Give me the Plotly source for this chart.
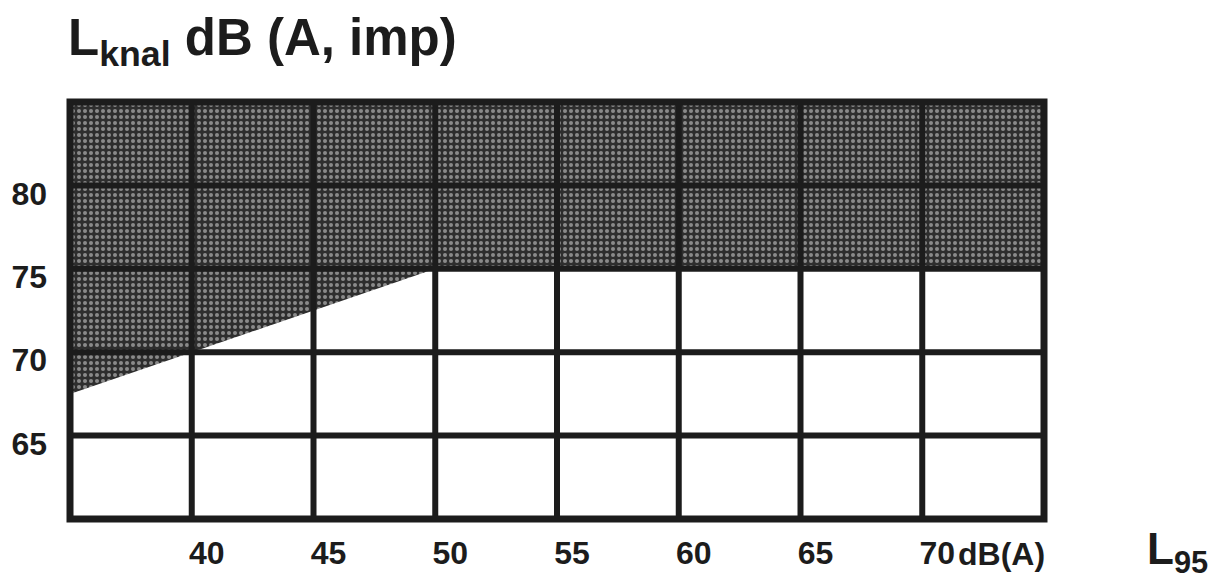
import plotly.graph_objects as go

# ---- data ----
x_ticks = [40, 45, 50, 55, 60, 65, 70]
x_tick_text = ["40", "45", "50", "55", "60", "65", "70"]
y_ticks = [65, 70, 75, 80]
y_tick_text = ["65", "70", "75", "80"]
x_range = [35, 75]
y_range = [60, 85]
# lower boundary of the shaded (impulse-noise) zone
boundary_x = [35, 50, 75]
boundary_y = [67.5, 75, 75]
top_level = 85

FONT = "Liberation Sans, Arial, sans-serif"
INK = "#1c1c1c"

fig = go.Figure()

poly_x = boundary_x + [boundary_x[-1], boundary_x[0]]
poly_y = boundary_y + [top_level, top_level]
fig.add_trace(go.Scatter(
    x=poly_x, y=poly_y, mode="lines", fill="toself",
    line=dict(width=0, color="#333333"),
    fillcolor="#333333",
    fillpattern=dict(shape=".", bgcolor="#2e2e2e", fgcolor="#e6e6e6",
                     size=6, solidity=0.35),
    hoverinfo="skip", showlegend=False,
))

shapes = []
for xv in x_ticks:
    shapes.append(dict(type="line", xref="x", yref="y", x0=xv, x1=xv,
                       y0=y_range[0], y1=y_range[1], layer="above",
                       line=dict(color=INK, width=6)))
for yv in y_ticks:
    shapes.append(dict(type="line", xref="x", yref="y", y0=yv, y1=yv,
                       x0=x_range[0], x1=x_range[1], layer="above",
                       line=dict(color=INK, width=6)))
shapes.append(dict(type="rect", xref="paper", yref="paper", x0=0, x1=1,
                   y0=0, y1=1, layer="above", line=dict(color=INK, width=7)))

annotations = [
    dict(text="<b>L<sub>knal</sub> dB (A, imp)</b>", xref="paper", yref="paper",
         x=-0.004, y=1.062, xanchor="left", yanchor="bottom", showarrow=False,
         font=dict(family=FONT, size=51, color=INK)),
    dict(text="<b>dB(A)</b>", xref="x", yref="paper", x=70, y=-0.035,
         xanchor="left", yanchor="top", xshift=34, showarrow=False,
         font=dict(family=FONT, size=32, color=INK)),
    dict(text="<b>L<sub>95</sub></b>", xref="paper", yref="paper",
         x=1.104, y=-0.006, xanchor="left", yanchor="top", showarrow=False,
         font=dict(family=FONT, size=44, color=INK)),
]

fig.update_layout(
    width=1218, height=579,
    margin=dict(l=62, r=182, t=94, b=68, autoexpand=False),
    paper_bgcolor="white", plot_bgcolor="white",
    shapes=shapes, annotations=annotations,
    xaxis=dict(range=x_range, tickvals=x_ticks, automargin=False,
               ticktext=["<b>%s</b>" % t for t in x_tick_text],
               showgrid=False, zeroline=False, showline=False, ticks="",
               ticklabelshift=15, ticklabelstandoff=12,
               tickfont=dict(family=FONT, size=32, color=INK)),
    yaxis=dict(range=y_range, tickvals=y_ticks, automargin=False,
               ticktext=["<b>%s</b>" % t for t in y_tick_text],
               showgrid=False, zeroline=False, showline=False, ticks="",
               ticklabelshift=8, ticklabelstandoff=22,
               tickfont=dict(family=FONT, size=32, color=INK)),
)

fig.write_html("out.html")
